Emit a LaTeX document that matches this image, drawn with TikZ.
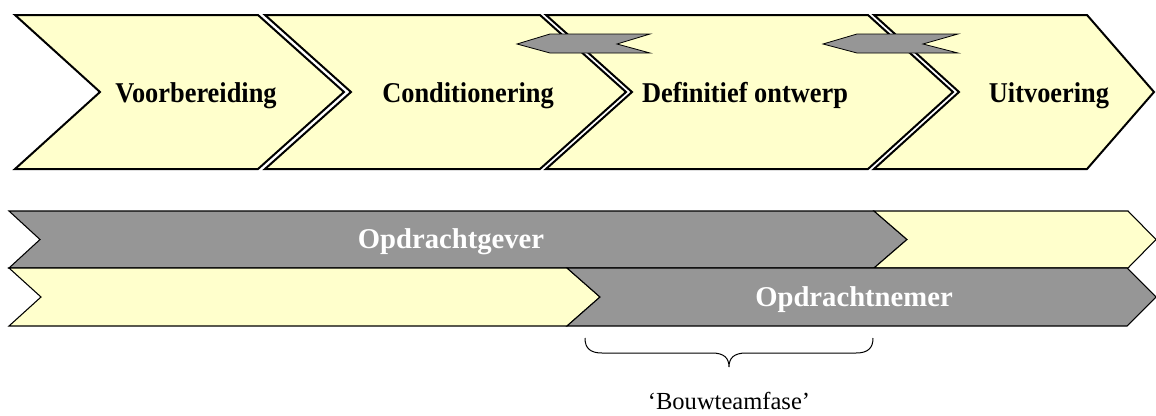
\documentclass[tikz,border=0pt]{standalone}
\usepackage{fontspec}
\setmainfont{Liberation Serif}
\definecolor{phasefill}{HTML}{FFFFCC}
\definecolor{barfill}{HTML}{969696}
\begin{document}
\begin{tikzpicture}[x=0.75pt,y=-0.75pt,
  phasebox/.style={fill=phasefill,draw=black,line width=1.5pt,line join=miter},
  flagbox/.style={fill=barfill,draw=black,line width=0.6pt,line join=miter},
  yellowbar/.style={fill=phasefill,draw=black,line width=0.8pt,line join=miter},
  greybar/.style={fill=barfill,draw=black,line width=0.8pt,line join=miter},
  phaselabel/.style={font=\fontsize{21.5}{24}\selectfont\bfseries,anchor=base,inner sep=0pt},
  rolelabel/.style={font=\fontsize{21.5}{24}\selectfont\bfseries,text=white,anchor=base,inner sep=0pt},
  bracelabel/.style={font=\fontsize{18.4}{22}\selectfont,anchor=base,inner sep=0pt},
  bracket/.style={draw=black,line width=0.75pt}]
\useasboundingbox (0,0) rectangle (1156,415);

% phase chevrons
\draw[phasebox] (15,15) -- (258,15) -- (344,92) -- (258,169) -- (15,169) -- (100,92) -- cycle;
\draw[phasebox] (265,15) -- (540,15) -- (626,92) -- (540,169) -- (265,169) -- (351,92) -- cycle;
\draw[phasebox] (546,15) -- (868,15) -- (953,92) -- (868,169) -- (546,169) -- (632,92) -- cycle;
\draw[phasebox] (874,15) -- (1087,15) -- (1154,92) -- (1087,169) -- (874,169) -- (959,92) -- cycle;

% feedback flags
\draw[flagbox] (517,44) -- (550,34) -- (650,34) -- (617,44) -- (650,53) -- (550,53) -- cycle;
\draw[flagbox] (823,44) -- (857,34) -- (958,34) -- (923,44) -- (958,53) -- (857,53) -- cycle;

\node[phaselabel] (voorb) at (196,102) {\scalebox{0.92}[1]{Voorbereiding}};
\node[phaselabel] (cond)  at (468,102) {\scalebox{0.92}[1]{Conditionering}};
\node[phaselabel] (defo)  at (745,102) {\scalebox{0.92}[1]{Definitief ontwerp}};
\node[phaselabel] (uitv)  at (1049,102) {\scalebox{0.92}[1]{Uitvoering}};

% role bars
\draw[greybar]   (9,211) -- (874,211) -- (907,239.5) -- (874,268) -- (9,268) -- (40,239.5) -- cycle;
\draw[yellowbar] (874,211) -- (1128,211) -- (1156,239.5) -- (1128,268) -- (874,268) -- (907,239.5) -- cycle;
\draw[yellowbar] (9,268) -- (567,268) -- (600,297) -- (567,326) -- (9,326) -- (41,297) -- cycle;
\draw[greybar]   (567,268) -- (1127,268) -- (1156,297) -- (1127,326) -- (567,326) -- (600,297) -- cycle;

\node[rolelabel] (gever) at (451,248) {Opdrachtgever};
\node[rolelabel] (nemer) at (854,306) {Opdrachtnemer};

% brace over the overlap
\coordinate (braceL) at (585,338);
\coordinate (braceR) at (873,338);
\coordinate (braceTip) at (729,367);
\draw[bracket] (braceL) .. controls (585,348) and (590,353) .. (602,353) -- (712,353)
  .. controls (724,353) and (729,358) .. (braceTip)
  .. controls (729,358) and (734,353) .. (746,353) -- (856,353)
  .. controls (868,353) and (873,348) .. (braceR);
\node[bracelabel] (fase) at (729,409) {‘Bouwteamfase’};
\end{tikzpicture}
\end{document}
